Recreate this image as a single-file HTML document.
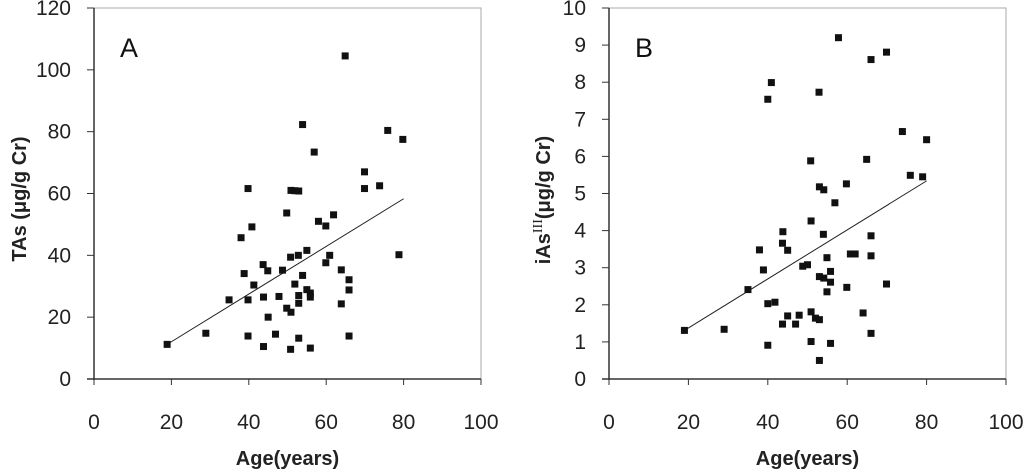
<!DOCTYPE html>
<html><head><meta charset="utf-8"><style>
html,body{margin:0;padding:0;background:#fff;}
svg{display:block;font-family:"Liberation Sans",sans-serif;}
</style></head><body>
<svg id="chart" width="1024" height="470" viewBox="0 0 1024 470"></svg>
<script>
// Panel A data (age, TAs)
const agesA = [18.9,28.9,34.9,38.0,38.8,39.8,39.8,39.8,40.8,41.3,43.7,44.9,43.8,43.8,45.0,46.9,47.8,48.7,49.8,49.8,50.9,50.8,50.9,50.8,51.9,52.9,51.9,52.8,52.9,52.9,52.9,53.9,53.9,55.0,55.0,55.9,55.9,55.9,56.9,58.0,59.9,59.9,60.9,61.9,63.9,63.9,64.9,65.9,65.9,65.9,69.9,69.9,73.8,75.9,78.8,79.8];
const valsA = [11.2,14.8,25.6,45.7,34.1,25.6,13.9,61.6,49.2,30.4,37.0,35.0,10.5,26.5,20.0,14.5,26.7,35.2,53.7,22.9,21.6,39.4,61.0,9.6,60.9,60.8,30.7,40.0,27.0,24.5,13.2,82.3,33.5,41.6,28.9,27.8,26.5,10.0,73.4,51.0,49.5,37.6,40.0,53.1,35.3,24.3,104.5,32.1,28.8,13.9,67.0,61.6,62.5,80.4,40.2,77.5];
const trendA = [[18.9,11.2],[80,58.3]];
const yTicksA = [0,20,40,60,80,100,120];
// Panel B data (age, iAsIII)
const agesB = [19.0,29.0,35.0,37.9,38.9,40.0,40.9,40.0,41.8,40.0,43.8,43.7,45.0,45.0,43.7,47.0,47.9,48.8,50.0,50.8,50.9,50.9,50.9,52.0,52.9,53.0,54.1,53.0,54.1,53.0,53.0,54.0,54.9,54.9,55.8,55.8,55.8,56.9,57.8,59.8,59.9,60.8,62.0,64.0,64.9,66.0,66.0,66.0,66.0,69.9,69.9,73.9,75.9,79.0,80.0];
const valsB = [1.31,1.34,2.41,3.48,2.94,7.54,7.99,2.03,2.07,0.91,3.97,3.66,3.47,1.70,1.48,1.48,1.72,3.04,3.08,5.88,4.26,1.81,1.01,1.64,7.73,5.18,5.10,2.76,2.72,1.60,0.50,3.90,3.27,2.35,2.90,2.61,0.96,4.75,9.20,5.26,2.47,3.37,3.37,1.78,5.92,8.61,3.86,3.32,1.23,8.81,2.56,6.67,5.49,5.45,6.45];
const trendB = [[19,1.31],[80,5.34]];
const yTicksB = [0,1,2,3,4,5,6,7,8,9,10];
const xTicks = [0,20,40,60,80,100];

const NS='http://www.w3.org/2000/svg';
const svg=document.getElementById('chart');
function mk(tag,attrs,parent){const e=document.createElementNS(NS,tag);for(const k in attrs)e.setAttribute(k,attrs[k]);(parent||svg).appendChild(e);return e;}

function panel(cfg){
  const g=mk('g',{});
  
  
  const sx=v=>cfg.x0+(v/100)*(cfg.x1-cfg.x0);
  const sy=v=>cfg.y0-(v/cfg.ymax)*(cfg.y0-cfg.y1);
  const fr=mk('rect',{x:cfg.x0,y:cfg.y1,width:cfg.x1-cfg.x0,height:cfg.y0-cfg.y1,fill:'none',stroke:'#aaa','stroke-width':1},g);
  
  
  const ya=mk('line',{x1:cfg.x0,y1:cfg.y1,x2:cfg.x0,y2:cfg.y0+1,stroke:'#333','stroke-width':1.5},g);
  
  
  const xa=mk('line',{x1:cfg.x0-7,y1:cfg.y0,x2:cfg.x1,y2:cfg.y0,stroke:'#333','stroke-width':1.5},g);
  
  
  cfg.yt.forEach(v=>{
    mk('line',{x1:cfg.x0-7,y1:sy(v),x2:cfg.x0,y2:sy(v),stroke:'#333','stroke-width':1},g);
    const t=mk('text',{x:cfg.x0-23,y:sy(v)+7,'text-anchor':'end','font-size':21,fill:'#222'},g);
    t.textContent=v;
    
    
  });
  xTicks.forEach(v=>{
    mk('line',{x1:sx(v),y1:cfg.y0,x2:sx(v),y2:cfg.y0+6,stroke:'#333','stroke-width':1},g);
    const t=mk('text',{x:sx(v),y:cfg.y0+50,'text-anchor':'middle','font-size':21,fill:'#222'},g);
    t.textContent=v;
    
    
  });
  const tl=mk('line',{x1:sx(cfg.tr[0][0]),y1:sy(cfg.tr[0][1]),x2:sx(cfg.tr[1][0]),y2:sy(cfg.tr[1][1]),stroke:'#222','stroke-width':1},g);
  
  
  cfg.ax.forEach((a,i)=>{
    const p=mk('rect',{x:sx(a)-3.5,y:sy(cfg.vals[i])-3.5,width:7,height:7,fill:'#111'},g);
    
    
  });
  const lb=mk('text',{x:cfg.x0+26,y:57,'font-size':27,fill:'#111'},g);
  lb.textContent=cfg.label;
  
  
  const xt=mk('text',{x:(cfg.x0+cfg.x1)/2,y:465,'text-anchor':'middle','font-size':20,'font-weight':'bold',fill:'#222'},g);
  xt.textContent='Age(years)';
  
  
}

panel({name:'panel-a',x0:94,x1:481,y0:379,y1:8,ymax:120,yt:yTicksA,ax:agesA,vals:valsA,tr:trendA,label:'A'});
panel({name:'panel-b',x0:609,x1:1006,y0:379,y1:8,ymax:10,yt:yTicksB,ax:agesB,vals:valsB,tr:trendB,label:'B'});

const ytA=mk('text',{x:0,y:0,transform:'translate(26,199) rotate(-90)','text-anchor':'middle','font-size':20,'font-weight':'bold',fill:'#222'});
ytA.textContent='TAs (μg/g Cr)';


const ytB=mk('text',{x:0,y:0,transform:'translate(550,200) rotate(-90)','text-anchor':'middle','font-size':20,'font-weight':'bold',fill:'#222'});


const s1=mk('tspan',{},ytB);s1.textContent='iAs';
const s2=mk('tspan',{'font-size':14,'font-weight':'normal',dy:-8,'font-family':'Liberation Serif, serif'},ytB);s2.textContent='III';
const s3=mk('tspan',{dy:8},ytB);s3.textContent='(μg/g Cr)';
</script>
</body></html>
